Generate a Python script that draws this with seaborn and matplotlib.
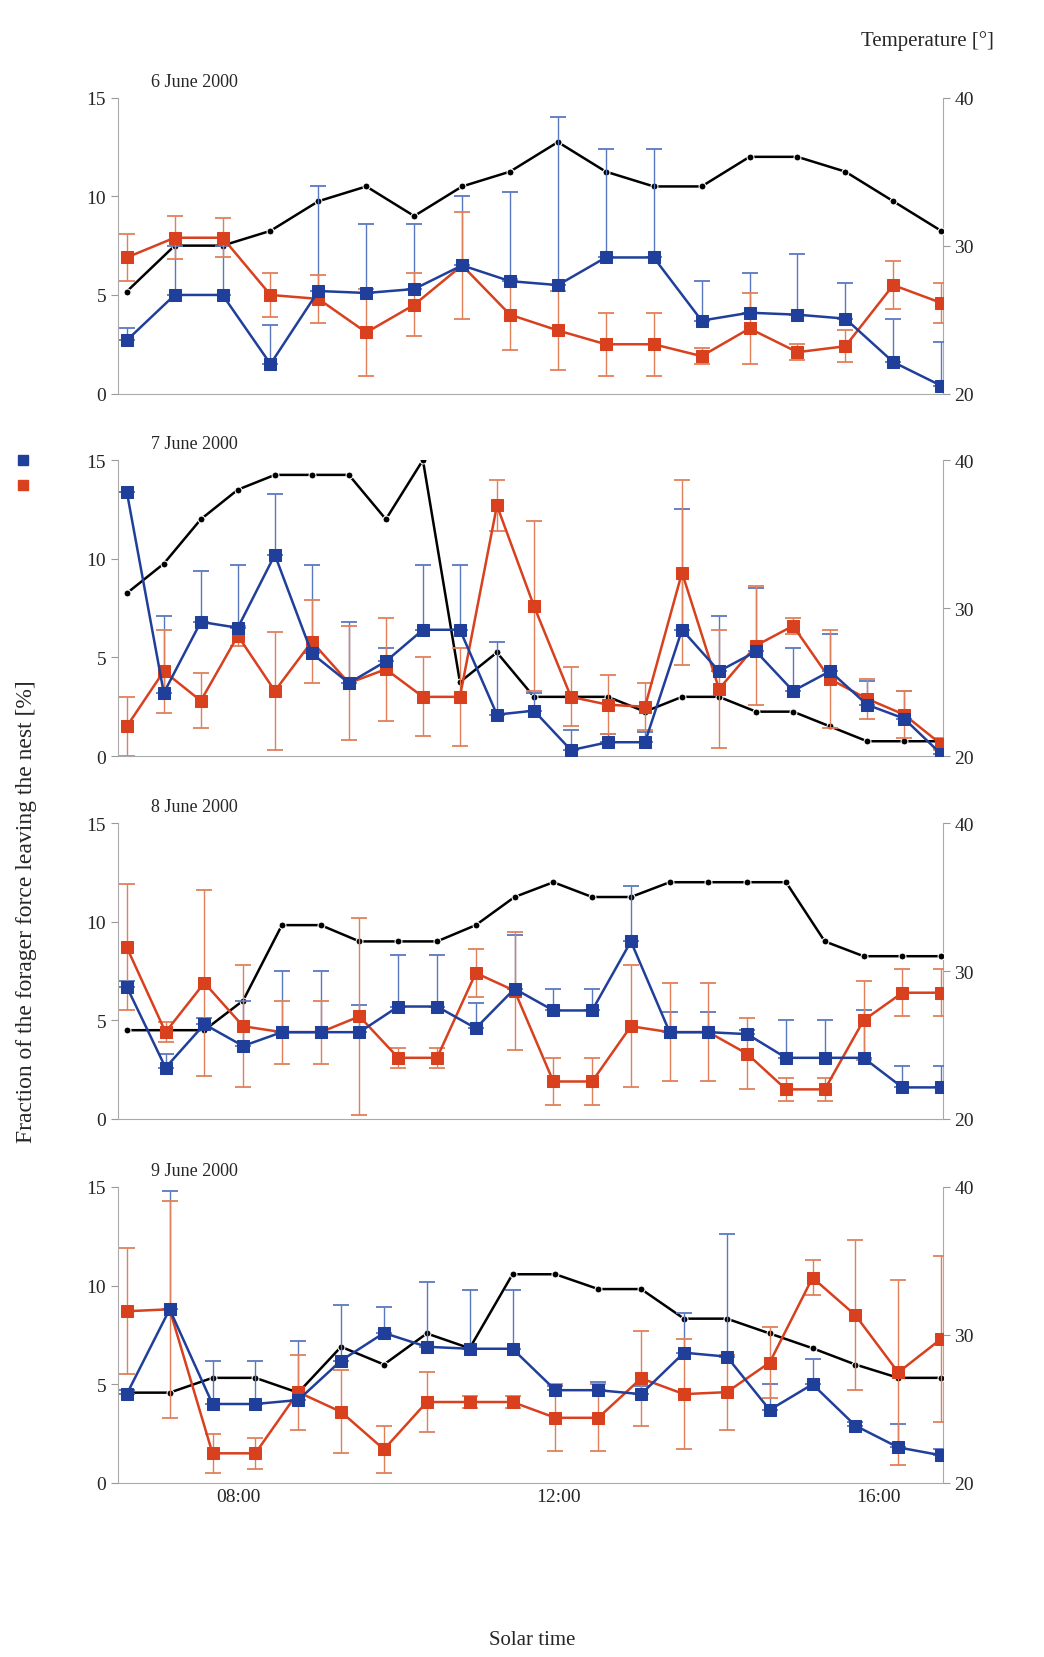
import numpy as np
import pandas as pd
import matplotlib
matplotlib.use("Agg")
import matplotlib.pyplot as plt
import seaborn as sns

sns.set_style("white")
plt.rcParams['font.family'] = ['Liberation Serif', 'DejaVu Serif']

dates = ["6 June 2000", "7 June 2000", "8 June 2000", "9 June 2000"]

# blue series (mean, upper error)
blue = [
    [2.7, 5.0, 5.0, 1.5, 5.2, 5.1, 5.3, 6.5, 5.7, 5.5, 6.9, 6.9, 3.7, 4.1, 4.0, 3.8, 1.6, 0.4],
    [13.4, 3.2, 6.8, 6.5, 10.2, 5.2, 3.7, 4.8, 6.4, 6.4, 2.1, 2.3, 0.3, 0.7, 0.7, 6.4, 4.3, 5.3, 3.3, 4.3, 2.6, 1.9, 0.1],
    [6.7, 2.6, 4.8, 3.7, 4.4, 4.4, 4.4, 5.7, 5.7, 4.6, 6.6, 5.5, 5.5, 9.0, 4.4, 4.4, 4.3, 3.1, 3.1, 3.1, 1.6, 1.6],
    [4.5, 8.8, 4.0, 4.0, 4.2, 6.2, 7.6, 6.9, 6.8, 6.8, 4.7, 4.7, 4.5, 6.6, 6.4, 3.7, 5.0, 2.9, 1.8, 1.4],
]
blue_err = [
    [0.6, 2.5, 2.5, 2.0, 5.3, 3.5, 3.3, 3.5, 4.5, 8.5, 5.5, 5.5, 2.0, 2.0, 3.1, 1.8, 2.2, 2.2],
    [0.0, 3.9, 2.6, 3.2, 3.1, 4.5, 3.1, 0.7, 3.3, 3.3, 3.7, 0.9, 1.0, 0.4, 0.5, 6.1, 2.8, 3.2, 2.2, 1.9, 1.2, 1.4, 0.3],
    [0.3, 0.7, 0.3, 2.3, 3.1, 3.1, 1.4, 2.6, 2.6, 1.3, 2.7, 1.1, 1.1, 2.8, 1.0, 1.0, 0.2, 1.9, 1.9, 2.4, 1.1, 1.1],
    [0.2, 6.0, 2.2, 2.2, 3.0, 2.8, 1.3, 3.3, 3.0, 3.0, 0.2, 0.4, 0.4, 2.0, 6.2, 1.3, 1.3, 0.2, 1.2, 0.3],
]
# red series (mean, symmetric error)
red = [
    [6.9, 7.9, 7.9, 5.0, 4.8, 3.1, 4.5, 6.5, 4.0, 3.2, 2.5, 2.5, 1.9, 3.3, 2.1, 2.4, 5.5, 4.6],
    [1.5, 4.3, 2.8, 6.1, 3.3, 5.8, 3.7, 4.4, 3.0, 3.0, 12.7, 7.6, 3.0, 2.6, 2.5, 9.3, 3.4, 5.6, 6.6, 3.9, 2.9, 2.1, 0.6],
    [8.7, 4.4, 6.9, 4.7, 4.4, 4.4, 5.2, 3.1, 3.1, 7.4, 6.5, 1.9, 1.9, 4.7, 4.4, 4.4, 3.3, 1.5, 1.5, 5.0, 6.4, 6.4],
    [8.7, 8.8, 1.5, 1.5, 4.6, 3.6, 1.7, 4.1, 4.1, 4.1, 3.3, 3.3, 5.3, 4.5, 4.6, 6.1, 10.4, 8.5, 5.6, 7.3],
]
red_err = [
    [1.2, 1.1, 1.0, 1.1, 1.2, 2.2, 1.6, 2.7, 1.8, 2.0, 1.6, 1.6, 0.4, 1.8, 0.4, 0.8, 1.2, 1.0],
    [1.5, 2.1, 1.4, 0.5, 3.0, 2.1, 2.9, 2.6, 2.0, 2.5, 1.3, 4.3, 1.5, 1.5, 1.2, 4.7, 3.0, 3.0, 0.4, 2.5, 1.0, 1.2, 0.3],
    [3.2, 0.5, 4.7, 3.1, 1.6, 1.6, 5.0, 0.5, 0.5, 1.2, 3.0, 1.2, 1.2, 3.1, 2.5, 2.5, 1.8, 0.6, 0.6, 2.0, 1.2, 1.2],
    [3.2, 5.5, 1.0, 0.8, 1.9, 2.1, 1.2, 1.5, 0.3, 0.3, 1.7, 1.7, 2.4, 2.8, 1.9, 1.8, 0.9, 3.8, 4.7, 4.2],
]
# temperature (right axis)
temp = [
    [26.9, 30, 30, 31, 33, 34, 32, 34, 35, 37, 35, 34, 34, 36, 36, 35, 33, 31],
    [31, 33, 36, 38, 39, 39, 39, 36, 40, 25, 27, 24, 24, 24, 23, 24, 24, 23, 23, 22, 21, 21, 21],
    [26, 26, 26, 28, 33.1, 33.1, 32, 32, 32, 33.1, 35, 36, 35, 35, 36, 36, 36, 36, 32, 31, 31, 31],
    [26.1, 26.1, 27.1, 27.1, 26.1, 29.2, 28, 30.1, 29.1, 34.1, 34.1, 33.1, 33.1, 31.1, 31.1, 30.1, 29.1, 28, 27.1, 27.1],
]

BLUE = "#1f3f9a"
RED = "#d8401e"
EBLUE = "#5a78c0"
ERED = "#e0805a"

fig = plt.figure(figsize=(10.44, 16.58), dpi=100)
bottoms = [0.762, 0.5434, 0.3245, 0.105]
W, H = 0.790, 0.1785

for i in range(4):
    ax = fig.add_axes([0.113, bottoms[i], W, H])
    n = len(blue[i])
    t = np.linspace(6.61, 16.78, n)
    df = pd.DataFrame({"t": t, "blue": blue[i], "red": red[i], "temp": temp[i]})

    ax.errorbar(t, df["blue"], yerr=[np.zeros(n), blue_err[i]], fmt="none",
                ecolor=EBLUE, elinewidth=1, capsize=6, capthick=1.3, zorder=2)
    ax.errorbar(t, df["red"], yerr=red_err[i], fmt="none",
                ecolor=ERED, elinewidth=1, capsize=6, capthick=1.3, zorder=2)
    sns.lineplot(data=df, x="t", y="blue", ax=ax, color=BLUE, marker="s",
                 markersize=8, markeredgecolor=BLUE, linewidth=1.8, zorder=4)
    sns.lineplot(data=df, x="t", y="red", ax=ax, color=RED, marker="s",
                 markersize=8, markeredgecolor=RED, linewidth=1.8, zorder=3)

    ax.set_xlim(6.5, 16.8)
    ax.set_ylim(0, 15)
    ax.set_yticks([0, 5, 10, 15])
    ax.set_xticks([8, 10, 12, 14, 16])
    if i == 3:
        ax.set_xticklabels(["08:00", "", "12:00", "", "16:00"], fontsize=14)
    else:
        ax.set_xticklabels([])
    ax.tick_params(axis="y", labelsize=14, length=5, color="#999999", direction="out")
    ax.tick_params(axis="x", length=6, color="#999999", direction="in")
    ax.set_xlabel("")
    ax.set_ylabel("")
    for s in ["top", "right"]:
        ax.spines[s].set_visible(False)
    for s in ["left", "bottom"]:
        ax.spines[s].set_color("#aaaaaa")
    ax.text(0.04, 1.04, dates[i], transform=ax.transAxes, fontsize=13)

    ax2 = ax.twinx()
    sns.lineplot(data=df, x="t", y="temp", ax=ax2, color="black", marker="o",
                 markersize=5, linewidth=1.8, zorder=5)
    ax2.set_ylim(20, 40)
    ax2.set_yticks([20, 30, 40])
    ax2.set_ylabel("")
    ax2.tick_params(axis="y", labelsize=14, length=5, color="#999999")
    for s in ["top", "left", "bottom"]:
        ax2.spines[s].set_visible(False)
    ax2.spines["right"].set_color("#aaaaaa")
    ax.set_zorder(ax2.get_zorder() + 1)
    ax.patch.set_visible(False)

fig.text(0.825, 0.972, "Temperature [°]", fontsize=15)
fig.text(0.025, 0.45, "Fraction of the forager force leaving the nest [%]",
         rotation=90, fontsize=17, va="center", ha="center")
fig.text(0.51, 0.008, "Solar time", fontsize=15, ha="center")
fig.patches.append(plt.Rectangle((0.017, 0.719), 0.01, 0.006, color=BLUE,
                                 transform=fig.transFigure, figure=fig))
fig.patches.append(plt.Rectangle((0.017, 0.704), 0.01, 0.006, color=RED,
                                 transform=fig.transFigure, figure=fig))

fig.savefig("out.png", dpi=100, facecolor="white")
